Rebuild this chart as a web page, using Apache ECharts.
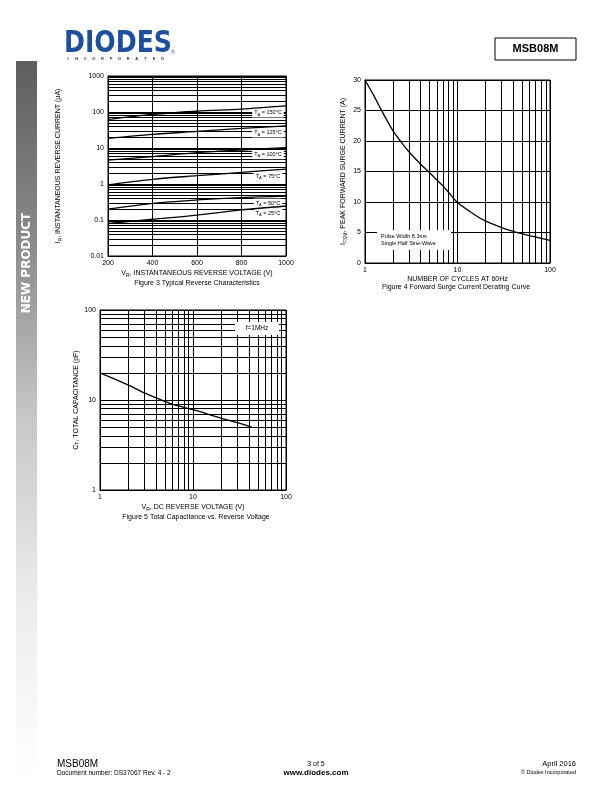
<!DOCTYPE html>
<html><head><meta charset="utf-8">
<script src="https://cdn.jsdelivr.net/npm/echarts/dist/echarts.min.js"></script>
<style>html,body{margin:0;padding:0;background:#fff}#c{width:612px;height:792px}</style>
</head><body><div id="c"></div>
<script>
// ---------- Figure 3 data: Typical Reverse Characteristics ----------
const fig3Voltage = [200, 400, 600, 800, 1000];
const fig3Temps = ['150', '125', '100', '75', '50', '25'];
const ir150 = [62, 86, 105, 120, 147];
const ir125 = [18.5, 24, 29, 35, 41];
const ir100 = [4.6, 5.8, 7.4, 8.8, 10.2];
const ir75 = [0.95, 1.35, 1.7, 2.1, 2.6];
const ir50 = [0.2, 0.29, 0.36, 0.42, 0.46];
const ir25 = [0.08, 0.105, 0.137, 0.19, 0.245];
const fig3Ticks = ['0.01', '0.1', '1', '10', '100', '1000'];

// ---------- Figure 4 data: Forward Surge Current Derating ----------
const fig4Cycles = [1, 1.25, 1.5, 2, 2.5, 3, 4, 5, 6, 7, 8, 10, 15, 20, 30, 40, 60, 100];
const fig4Ifsm = [30, 27.4, 25.1, 21.7, 19.7, 18.2, 16.2, 14.8, 13.6, 12.6, 11.6, 9.9, 8, 6.9, 5.8, 5.2, 4.5, 3.7];

// ---------- Figure 5 data: Total Capacitance vs Reverse Voltage ----------
const fig5Vr = [1, 2, 3, 4, 6, 10, 20, 30, 43];
const fig5Ct = [20, 14.7, 12, 10.6, 9, 7.8, 6.3, 5.6, 5.0];

const FONT = 'Liberation Sans';
const BLACK = '#000';

function zip(xs, ys) { return xs.map((x, i) => [x, ys[i]]); }
function logMinor(fromExp, toExp) {
  const out = [];
  for (let e = fromExp; e < toExp; e++) {
    for (let m = 2; m <= 9; m++) out.push(+(m * Math.pow(10, e)).toPrecision(3));
  }
  return out;
}
const gridLineStyle = { color: BLACK, width: 1, type: 'solid' };
function mlines(key, vals) {
  return {
    silent: true, symbol: 'none', animation: false,
    label: { show: false },
    lineStyle: gridLineStyle,
    emphasis: { disabled: true },
    data: vals.map(v => ({ [key]: v }))
  };
}
const axisLbl = { color: BLACK, fontSize: 7, fontFamily: FONT, margin: 4 };
const nameStyle = {
  color: BLACK, fontSize: 7, fontFamily: FONT,
  rich: {
    n: { fontSize: 7, fontFamily: FONT, color: BLACK },
    s: { fontSize: 5, fontFamily: FONT, color: BLACK, padding: [4, 0, 0, 0] }
  }
};

const chart = echarts.init(document.getElementById('c'), null, { renderer: 'canvas' });

const irSeries = [ir150, ir125, ir100, ir75, ir50, ir25];

const series = [];
irSeries.forEach((arr, i) => {
  const last = arr[arr.length - 1];
  series.push({
    type: 'line', xAxisIndex: 0, yAxisIndex: 0,
    data: zip(fig3Voltage, arr), smooth: 0.3, symbol: 'none',
    lineStyle: { color: BLACK, width: 1.3 }, z: 5, animation: false,
    markPoint: {
      symbol: 'rect', symbolSize: 0, silent: true, animation: false,
      data: [{ coord: [1000, last] }],
      label: {
        show: true, position: 'inside', offset: [-18, 7],
        formatter: '{n|T}{s|A}{n| = ' + fig3Temps[i] + '°C}',
        backgroundColor: '#fff', padding: [1, 2, 1, 2],
        rich: {
          n: { fontSize: 5.5, fontFamily: FONT, color: BLACK },
          s: { fontSize: 4, fontFamily: FONT, color: BLACK, padding: [3, 0, 0, 0] }
        }
      }
    },
    markLine: i === 0 ? mlines('yAxis', logMinor(-2, 3)) : undefined
  });
});
series.push({
  type: 'line', xAxisIndex: 1, yAxisIndex: 1,
  data: zip(fig4Cycles, fig4Ifsm), smooth: 0.3, symbol: 'none',
  lineStyle: { color: BLACK, width: 1.3 }, z: 5, animation: false,
  markLine: mlines('xAxis', logMinor(0, 2))
});
series.push({
  type: 'line', xAxisIndex: 2, yAxisIndex: 2,
  data: zip(fig5Vr, fig5Ct), smooth: 0.3, symbol: 'none',
  lineStyle: { color: BLACK, width: 1.3 }, z: 5, animation: false,
  markLine: mlines('xAxis', logMinor(0, 2))
});
series.push({
  type: 'line', xAxisIndex: 2, yAxisIndex: 2, data: [], symbol: 'none',
  markLine: mlines('yAxis', logMinor(0, 2))
});

const splitL = { show: true, lineStyle: gridLineStyle };
const axLine = { show: true, lineStyle: { color: BLACK, width: 1 } };

const incLetters = 'INCORPORATED'.split('');
const incGraphics = incLetters.map((ch, i) => ({
  type: 'text', x: 68 + i * 8.6, y: 58.5, silent: true,
  style: { text: ch, fill: '#333', font: 'bold 4px "Liberation Sans"', align: 'center', verticalAlign: 'middle' }
}));

const option = {
  animation: false,
  backgroundColor: '#fff',
  textStyle: { fontFamily: FONT },
  grid: [
    { left: 108, top: 76, width: 178, height: 180, show: true, borderColor: BLACK, borderWidth: 1 },
    { left: 365, top: 80, width: 185, height: 183, show: true, borderColor: BLACK, borderWidth: 1 },
    { left: 100, top: 310, width: 186, height: 180, show: true, borderColor: BLACK, borderWidth: 1 }
  ],
  xAxis: [
    { gridIndex: 0, type: 'value', min: 200, max: 1000, interval: 200,
      axisLine: axLine, axisTick: { show: false }, splitLine: splitL,
      axisLabel: Object.assign({}, axisLbl, { formatter: (v) => String(v) }),
      name: '{n|V}{s|R}{n|, INSTANTANEOUS REVERSE VOLTAGE (V)}', nameLocation: 'middle', nameGap: 13, nameTextStyle: nameStyle },
    { gridIndex: 1, type: 'log', logBase: 10, min: 1, max: 100,
      axisLine: axLine, axisTick: { show: false }, splitLine: splitL, axisLabel: axisLbl,
      name: 'NUMBER OF CYCLES AT 60Hz', nameLocation: 'middle', nameGap: 13, nameTextStyle: nameStyle },
    { gridIndex: 2, type: 'log', logBase: 10, min: 1, max: 100,
      axisLine: axLine, axisTick: { show: false }, splitLine: splitL, axisLabel: axisLbl,
      name: '{n|V}{s|R}{n|, DC REVERSE VOLTAGE (V)}', nameLocation: 'middle', nameGap: 13, nameTextStyle: nameStyle }
  ],
  yAxis: [
    { gridIndex: 0, type: 'log', logBase: 10, min: 0.01, max: 1000,
      axisLine: axLine, axisTick: { show: false }, splitLine: splitL,
      axisLabel: Object.assign({}, axisLbl, { formatter: (v) => {
        const idx = Math.round(Math.log10(v)) + 2; return fig3Ticks[idx] !== undefined ? fig3Ticks[idx] : ''; } }),
      name: '{n|I}{s|R}{n|, INSTANTANEOUS REVERSE CURRENT (μA)}', nameLocation: 'middle', nameRotate: 90, nameGap: 45, nameTextStyle: nameStyle },
    { gridIndex: 1, type: 'value', min: 0, max: 30, interval: 5,
      axisLine: axLine, axisTick: { show: false }, splitLine: splitL, axisLabel: axisLbl,
      name: '{n|I}{s|FSM}{n|, PEAK FORWARD SURGE CURRENT (A)}', nameLocation: 'middle', nameRotate: 90, nameGap: 17, nameTextStyle: nameStyle },
    { gridIndex: 2, type: 'log', logBase: 10, min: 1, max: 100,
      axisLine: axLine, axisTick: { show: false }, splitLine: splitL, axisLabel: axisLbl,
      name: '{n|C}{s|T}{n|, TOTAL CAPACITANCE (pF)}', nameLocation: 'middle', nameRotate: 90, nameGap: 15, nameTextStyle: nameStyle }
  ],
  series: series,
  graphic: [
    { type: 'rect', shape: { x: 16, y: 61, width: 21, height: 720 }, silent: true,
      style: { fill: new echarts.graphic.LinearGradient(0, 0, 0, 1, [
        { offset: 0, color: '#5e5e5e' }, { offset: 0.25, color: '#8a8a8a' },
        { offset: 0.5, color: '#c8c8c8' }, { offset: 0.75, color: '#ececec' }, { offset: 1, color: '#ffffff' }]) } },
    { type: 'text', x: 27, y: 263, rotation: Math.PI / 2, silent: true,
      style: { text: 'NEW PRODUCT', fill: '#fff', font: 'bold 12px "DejaVu Sans"', align: 'center', verticalAlign: 'middle' } },
    { type: 'text', x: 64, y: 44, scaleX: 0.84, silent: true,
      style: { text: 'DIODES', fill: '#1d4f9c', font: 'bold 30px "DejaVu Sans"', verticalAlign: 'middle' } },
    { type: 'text', x: 171, y: 53, silent: true,
      style: { text: '®', fill: '#1d4f9c', font: '5px "Liberation Sans"', verticalAlign: 'middle' } },
    ...incGraphics,
    { type: 'rect', shape: { x: 495, y: 38, width: 81, height: 22 }, silent: true,
      style: { fill: '#fff', stroke: BLACK, lineWidth: 1 } },
    { type: 'text', x: 535.5, y: 49, silent: true,
      style: { text: 'MSB08M', fill: BLACK, font: 'bold 11px "Liberation Sans"', align: 'center', verticalAlign: 'middle' } },
    { type: 'text', x: 197, y: 283, silent: true,
      style: { text: 'Figure 3 Typical Reverse Characteristics', fill: BLACK, font: '7px "Liberation Sans"', align: 'center', verticalAlign: 'middle' } },
    { type: 'text', x: 456, y: 287, silent: true,
      style: { text: 'Figure 4 Forward Surge Current Derating Curve', fill: BLACK, font: '7px "Liberation Sans"', align: 'center', verticalAlign: 'middle' } },
    { type: 'text', x: 196, y: 517, silent: true,
      style: { text: 'Figure 5 Total Capacitance vs. Reverse Voltage', fill: BLACK, font: '7px "Liberation Sans"', align: 'center', verticalAlign: 'middle' } },
    { type: 'rect', shape: { x: 377, y: 230, width: 74, height: 20 }, silent: true, z: 10,
      style: { fill: '#fff' } },
    { type: 'text', x: 381, y: 236, silent: true, z: 11,
      style: { text: 'Pulse Width 8.3ms', fill: BLACK, font: '5.5px "Liberation Sans"', verticalAlign: 'middle' } },
    { type: 'text', x: 381, y: 243.5, silent: true, z: 11,
      style: { text: 'Single Half Sine-Wave', fill: BLACK, font: '5.5px "Liberation Sans"', verticalAlign: 'middle' } },
    { type: 'rect', shape: { x: 235, y: 322, width: 44, height: 13 }, silent: true, z: 10,
      style: { fill: '#fff' } },
    { type: 'text', x: 257, y: 328.5, silent: true, z: 11,
      style: { text: 'f=1MHz', fill: BLACK, font: '6.5px "Liberation Sans"', align: 'center', verticalAlign: 'middle' } },
    { type: 'text', x: 57, y: 764, silent: true,
      style: { text: 'MSB08M', fill: BLACK, font: '10px "Liberation Sans"', verticalAlign: 'middle' } },
    { type: 'text', x: 57, y: 773.5, silent: true,
      style: { text: 'Document number: DS37067 Rev. 4 - 2', fill: BLACK, font: '6.5px "Liberation Sans"', verticalAlign: 'middle' } },
    { type: 'text', x: 316, y: 764, silent: true,
      style: { text: '3 of 5', fill: BLACK, font: '7px "Liberation Sans"', align: 'center', verticalAlign: 'middle' } },
    { type: 'text', x: 316, y: 773, silent: true,
      style: { text: 'www.diodes.com', fill: BLACK, font: 'bold 8px "Liberation Sans"', align: 'center', verticalAlign: 'middle' } },
    { type: 'text', x: 576, y: 764, silent: true,
      style: { text: 'April 2016', fill: BLACK, font: '7.5px "Liberation Sans"', align: 'right', verticalAlign: 'middle' } },
    { type: 'text', x: 576, y: 772.5, silent: true,
      style: { text: '© Diodes Incorporated', fill: BLACK, font: '5.5px "Liberation Sans"', align: 'right', verticalAlign: 'middle' } }
  ]
};
chart.setOption(option);
</script>
</body></html>
